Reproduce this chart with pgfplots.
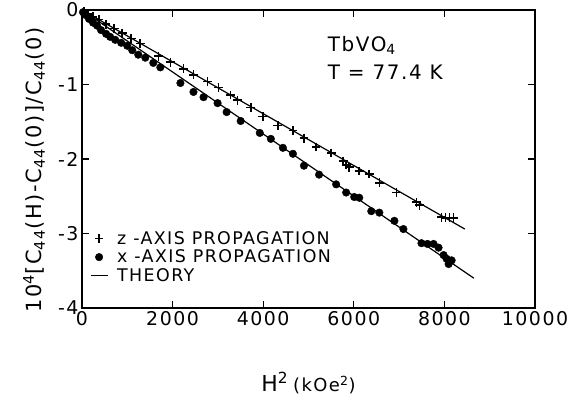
\documentclass[border=0pt]{standalone}
\usepackage{pgfplots}
\pgfplotsset{compat=1.18}
\usepackage{fontspec}
\setmainfont[LetterSpace=8]{DejaVu Sans}

\pgfplotstableread{
x y
44 -0.015
133 -0.05
244 -0.09
377 -0.13
532 -0.19
710 -0.25
887 -0.31
1086 -0.38
1286 -0.45
1685 -0.62
1951 -0.70
2239 -0.79
2461 -0.87
2772 -0.96
3016 -1.04
3282 -1.14
3437 -1.21
3725 -1.31
3991 -1.43
4324 -1.55
4656 -1.62
4900 -1.72
5166 -1.84
5499 -1.92
5765 -2.03
5831 -2.08
5898 -2.11
6120 -2.16
6341 -2.20
6563 -2.32
6940 -2.45
7384 -2.58
7450 -2.62
7938 -2.78
8027 -2.79
8115 -2.79
8204 -2.79
}\zdata

\pgfplotstableread{
x y
22 -0.03
89 -0.07
155 -0.12
244 -0.17
333 -0.21
421 -0.27
532 -0.32
621 -0.36
732 -0.40
865 -0.44
998 -0.48
1109 -0.54
1242 -0.60
1397 -0.64
1574 -0.71
1729 -0.77
2173 -0.98
2461 -1.10
2683 -1.17
2993 -1.25
3193 -1.37
3503 -1.49
3925 -1.65
4169 -1.73
4435 -1.85
4656 -1.93
4900 -2.09
5233 -2.21
5610 -2.34
5831 -2.45
6009 -2.51
6120 -2.52
6386 -2.70
6563 -2.72
6896 -2.83
7095 -2.94
7494 -3.13
7627 -3.14
7761 -3.14
7871 -3.19
7982 -3.29
8049 -3.34
8093 -3.41
8160 -3.36
}\xdata

\begin{document}
\begin{tikzpicture}
\begin{axis}[
  scale only axis, width=453bp, height=298bp,
  xmin=0, xmax=10000, ymin=-4, ymax=0,
  xtick={0,2000,4000,6000,8000,10000},
  xticklabels={0,2000,4000,6000,8000,10000},
  ytick={-4,-3,-2,-1,0},
  yticklabels={-4,-3,-2,-1,0},
  scaled x ticks=false, scaled y ticks=false,
  tick align=inside, major tick length=7bp,
  axis line style={line width=1.4bp},
  every tick/.style={black, line width=1.2bp},
  tick label style={font=\fontsize{19}{22}\selectfont},
  xlabel={{\fontsize{22}{24}\selectfont H\textsuperscript{2}}\hspace{0.5em}{\fontsize{18}{20}\selectfont (kOe\textsuperscript{2})}},
  xlabel style={at={(axis description cs:0.5,0)}, anchor=center, yshift=-75bp},
  ylabel={10\textsuperscript{4}[C\textsubscript{44}(H)-C\textsubscript{44}(0)]/C\textsubscript{44}(0)},
  ylabel style={at={(axis description cs:-0.106,0.463)}, anchor=center, font=\fontsize{21}{24}\selectfont},
  legend cell align=left,
  legend style={draw=none, fill=none, at={(axis cs:150,-2.93)}, anchor=north west,
    font=\fontsize{17.5}{20}\selectfont, row sep=0bp, inner sep=1bp,
    /tikz/every odd column/.append style={column sep=7bp}},
  clip=false,
]
\addplot[only marks, mark=+, mark size=4.4bp, line width=1.6bp] table[x=x,y=y]{\zdata};
\addlegendentry{z -AXIS PROPAGATION}
\addplot[only marks, mark=*, mark size=3.8bp] table[x=x,y=y]{\xdata};
\addlegendentry{x -AXIS PROPAGATION}
\addplot[black, line width=1.2bp] coordinates {(0,0) (8450,-2.94)};
\addlegendentry{THEORY}
\addplot[black, line width=1.2bp, forget plot] coordinates {(0,0) (8650,-3.60)};
\node[anchor=west, font=\fontsize{20}{22}\selectfont] at (axis cs:5350,-0.47) {TbVO\textsubscript{4}};
\node[anchor=west, font=\fontsize{20}{22}\selectfont] at (axis cs:5350,-0.83) {T = 77.4 K};
\end{axis}
\pgfresetboundingbox
\path[use as bounding box] (current axis.south west) ++(-82bp,-90bp) rectangle ++(583bp,398bp);
\end{tikzpicture}
\end{document}
